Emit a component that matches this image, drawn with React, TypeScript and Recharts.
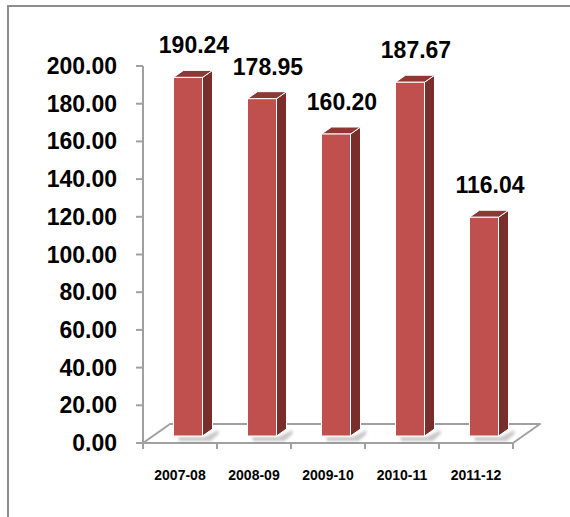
import React from 'react';
import { BarChart, Bar, XAxis, YAxis, LabelList, Customized } from 'recharts';

const categories = ['2007-08', '2008-09', '2009-10', '2010-11', '2011-12'];
const values = [190.24, 178.95, 160.2, 187.67, 116.04];
const yTicks = [0, 20, 40, 60, 80, 100, 120, 140, 160, 180, 200];

const data = categories.map((c, i) => ({ category: c, value: values[i] }));

const W = 570;
const H = 517;
const MARGIN = { top: 66, right: 57, left: 0, bottom: 44 };
const Y_AXIS_W = 143;
const X_AXIS_H = 30;
const PLOT_LEFT = MARGIN.left + Y_AXIS_W;
const PLOT_RIGHT = W - MARGIN.right;
const PLOT_BOTTOM = H - MARGIN.bottom - X_AXIS_H;
const BAND = (PLOT_RIGHT - PLOT_LEFT) / categories.length;

// 3D geometry
const FLOOR_DX = 27;
const FLOOR_DY = 19;
const SHIFT_X = 7.5;
const SHIFT_Y = 7;
const BAR_DX = 10;
const BAR_DY = 7;

const FRONT = '#C0504D';
const SIDE = '#7A2E2C';
const TOP = '#8E3734';
const AXIS = '#a0a0a0';
const FONT = '"Liberation Sans", Arial, sans-serif';

function Bar3D(props: any) {
  const { x, y, width, height } = props;
  if (width == null || height == null) return null;
  const fx = x + SHIFT_X;
  const fy = y - SHIFT_Y;
  const bottom = fy + height;
  const right = fx + width;
  return (
    <g>
      <polygon
        points={`${fx + 4},${bottom + 1} ${right + 2},${bottom + 1} ${right + BAR_DX + 6},${bottom - BAR_DY + 1} ${right + BAR_DX + 6},${bottom - 2} ${right + 8},${bottom + 5} ${fx + 6},${bottom + 5}`}
        fill="#000"
        opacity={0.22}
        filter="url(#shadowBlur)"
      />
      <polygon
        points={`${right},${fy} ${right + BAR_DX},${fy - BAR_DY} ${right + BAR_DX},${bottom - BAR_DY} ${right},${bottom}`}
        fill={SIDE}
        stroke="#fff"
        strokeWidth={1}
      />
      <polygon
        points={`${fx},${fy} ${fx + BAR_DX},${fy - BAR_DY} ${right + BAR_DX},${fy - BAR_DY} ${right},${fy}`}
        fill={TOP}
        stroke="#fff"
        strokeWidth={1}
      />
      <rect x={fx} y={fy} width={width} height={height} fill={FRONT} stroke="#fff" strokeWidth={1} />
    </g>
  );
}

function ValueLabel(props: any) {
  const { x, y, width, value } = props;
  const cx = x + width / 2 + SHIFT_X + 6;
  const cy = y - SHIFT_Y - 32;
  return (
    <text
      x={cx}
      y={cy}
      textAnchor="middle"
      dominantBaseline="central"
      fontFamily={FONT}
      fontWeight="bold"
      fontSize={23}
      fill="#000"
    >
      {Number(value).toFixed(2)}
    </text>
  );
}

function CategoryTick(props: any) {
  const { x, y, payload, index } = props;
  const axisY = PLOT_BOTTOM;
  const left = x - BAND / 2;
  const right = x + BAND / 2;
  return (
    <g>
      <line x1={left} y1={axisY} x2={left} y2={axisY + 6} stroke={AXIS} strokeWidth={2} />
      {index === categories.length - 1 && (
        <line x1={right} y1={axisY} x2={right} y2={axisY + 6} stroke={AXIS} strokeWidth={2} />
      )}
      <text
        x={x}
        y={axisY + 32}
        textAnchor="middle"
        dominantBaseline="central"
        fontFamily={FONT}
        fontWeight="bold"
        fontSize={14}
        fill="#000"
      >
        {payload.value}
      </text>
    </g>
  );
}

function ValueTick(props: any) {
  const { x, y, payload } = props;
  return (
    <text
      x={x}
      y={y}
      textAnchor="end"
      dominantBaseline="central"
      fontFamily={FONT}
      fontWeight="bold"
      fontSize={23}
      fill="#000"
    >
      {Number(payload.value).toFixed(2)}
    </text>
  );
}

function Floor() {
  const l = PLOT_LEFT;
  const r = PLOT_RIGHT;
  const b = PLOT_BOTTOM;
  return (
    <g>
      <defs>
        <filter id="shadowBlur" x="-50%" y="-50%" width="200%" height="200%">
          <feGaussianBlur stdDeviation="1.5" />
        </filter>
      </defs>
      <polygon
        points={`${l},${b} ${l + FLOOR_DX},${b - FLOOR_DY} ${r + FLOOR_DX},${b - FLOOR_DY} ${r},${b}`}
        fill="#fff"
        stroke={AXIS}
        strokeWidth={2}
        strokeLinejoin="round"
      />
    </g>
  );
}

export default function App() {
  return (
    <div style={{ position: 'absolute', left: 0, top: 0, width: W, height: H, overflow: 'hidden', background: '#fff' }}>
      <div
        style={{
          position: 'absolute',
          left: 7,
          top: 5,
          width: 640,
          height: 640,
          border: '2px solid #8c8c8c',
        }}
      />
      <div style={{ position: 'absolute', left: 0, top: 0 }}>
        <BarChart width={W} height={H} data={data} margin={MARGIN} barSize={29}>
          <Customized component={Floor} />
          <XAxis
            dataKey="category"
            height={X_AXIS_H}
            axisLine={false}
            tickLine={false}
            tick={<CategoryTick />}
            interval={0}
          />
          <YAxis
            width={Y_AXIS_W}
            domain={[0, 200]}
            ticks={yTicks}
            interval={0}
            axisLine={{ stroke: AXIS, strokeWidth: 2 }}
            tickLine={{ stroke: AXIS, strokeWidth: 2 }}
            tickSize={7}
            tickMargin={19}
            tick={<ValueTick />}
          />
          <Bar dataKey="value" shape={<Bar3D />} isAnimationActive={false}>
            <LabelList dataKey="value" content={<ValueLabel />} />
          </Bar>
        </BarChart>
      </div>
    </div>
  );
}
